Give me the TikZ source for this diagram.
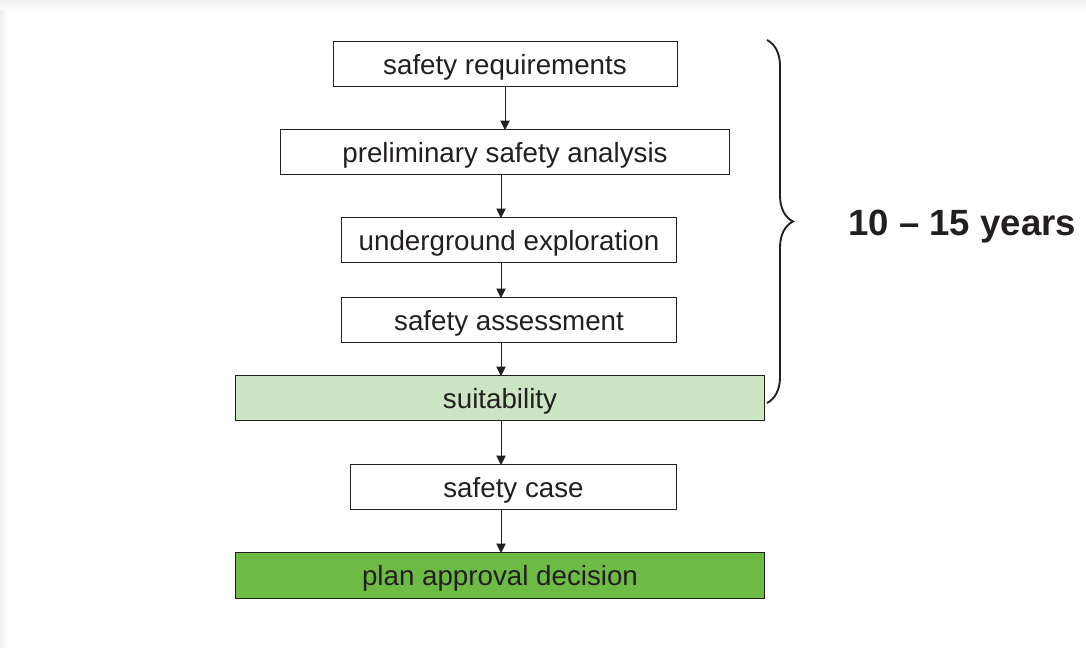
\documentclass[tikz,border=0pt]{standalone}
\usepackage{fontspec}
\setmainfont{Liberation Sans}
\usetikzlibrary{positioning,arrows.meta,decorations.pathreplacing}

\definecolor{inkgray}{HTML}{231F20}
\definecolor{palegreen}{HTML}{CCE5C3}
\definecolor{leafgreen}{HTML}{6DBA45}

\begin{document}
\begin{tikzpicture}[x=0.75pt,y=-0.75pt,
    stage/.style={rectangle,draw=inkgray,line width=0.75pt,minimum height=33.75pt,
                  inner sep=0pt,outer sep=0pt,text height=17pt,text depth=2pt,
                  text=inkgray,font=\fontsize{20.8pt}{24pt}\selectfont},
    flow/.style={-{Triangle[width=7pt,length=7pt]},line width=0.75pt,draw=inkgray},
    span label/.style={text=inkgray,font=\fontsize{27.4pt}{32pt}\selectfont\bfseries}]

  % page with its faint drop shadow
  \useasboundingbox (0,0) rectangle (1086,648);
  \shade[top color=black!6,bottom color=white] (0,0) rectangle (1086,11);
  \shade[left color=black!6,right color=white] (0,11) rectangle (7,648);

  % the stages, top to bottom
  \node[stage,minimum width=258pt] (req) at (505,64.5) {safety requirements};
  \node[stage,minimum width=336.75pt] (pre) [below=32.25pt of req] {preliminary safety analysis};
  \node[stage,minimum width=251.25pt] (expl) [below=32.25pt of pre,xshift=3pt] {underground exploration};
  \node[stage,minimum width=251.25pt] (assess) [below=26.25pt of expl] {safety assessment};
  \node[stage,minimum width=396.75pt,fill=palegreen] (suit) [below=24.75pt of assess,xshift=-6.75pt] {suitability};
  \node[stage,minimum width=244.5pt] (case) [below=33pt of suit,xshift=10.125pt] {safety case};
  \node[stage,minimum width=396.75pt,fill=leafgreen] (plan) [below=32.25pt of case,xshift=-10.125pt] {plan approval decision};

  % arrows down the middle
  \coordinate (spine) at (501,0);
  \draw[flow] (req) -- (pre);
  \draw[flow] (pre.south -| spine) -- (expl.north -| spine);
  \draw[flow] (expl.south -| spine) -- (assess.north -| spine);
  \draw[flow] (assess.south -| spine) -- (suit.north -| spine);
  \draw[flow] (suit.south -| spine) -- (case.north -| spine);
  \draw[flow] (case.south -| spine) -- (plan.north -| spine);

  % brace over the first five stages
  \coordinate (brace top) at (767,40);
  \coordinate (brace bottom) at (767,403);
  \coordinate (tip) at (793,222);
  \draw[line width=1.4pt,inkgray,decorate,decoration={brace,amplitude=19.5pt}]
    (brace top) -- (brace bottom);
  \node[span label,right=38pt of tip,yshift=-3.4pt] (years) {10 -- 15 years};
\end{tikzpicture}
\end{document}
